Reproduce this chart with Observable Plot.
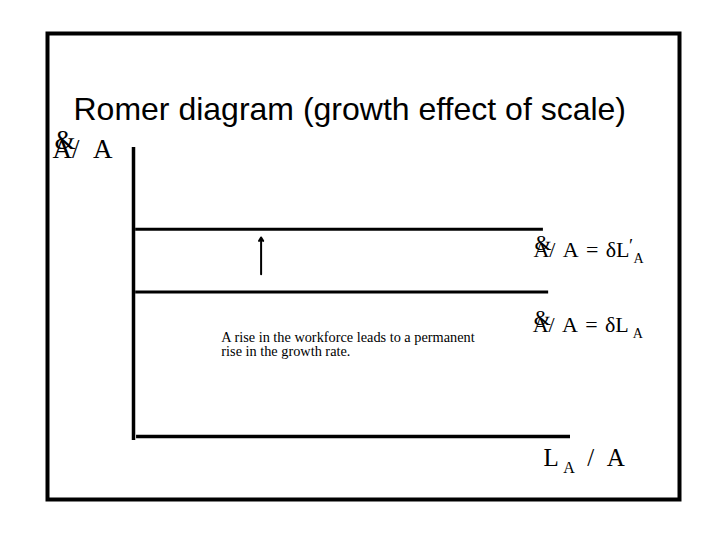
<!DOCTYPE html>
<html>
<head>
<meta charset="utf-8">
<script src="https://cdn.jsdelivr.net/npm/d3@7"></script>
<script src="https://cdn.jsdelivr.net/npm/@observablehq/plot@0.6"></script>
<style>
  html, body { margin: 0; padding: 0; background: #ffffff; }
  svg { display: block; }
</style>
</head>
<body>
<div id="chart"></div>
<script>
// ---- data (diagram in its own units: x = L_A / A, y = growth rate Ȧ/A) ----
const title = "Romer diagram (growth effect of scale)";
const regimes = ["after rise in workforce", "initial workforce"];
const growthRates = [7.17, 5.0];              // δL'_A and δL_A
const lineStarts = [0.05, 0.05];
const lineEnds = [9.38, 9.5];
const eqLabels = ["A/\u2004A\u2004=\u2004δL_{A}^{′}", "A/\u2004A\u2004=\u2004δL_{A}"];
const yAxisLabel = "A/\u2002A";
const xAxisLabel = "L_{A}\u2002/\u2002A";
const xAxisSpan = [0.07, 10];
const yAxisSpan = [-0.14, 10];
const arrowFrom = [2.92, 5.61];
const arrowTo = [2.92, 6.89];
const noteText = "A rise in the workforce leads to a permanent\nrise in the growth rate.";
const noteAt = [2.01, 2.8];

const SERIF = "'Liberation Serif', 'Times New Roman', serif";
const SANS = "'Liberation Sans', Arial, sans-serif";

const lines = regimes.map((r, i) => ({regime: r, g: growthRates[i], x1: lineStarts[i], x2: lineEnds[i], label: eqLabels[i]}));

const plot = Plot.plot({
  width: 720,
  height: 540,
  marginLeft: 47, marginRight: 41, marginTop: 33, marginBottom: 41,
  x: {domain: [0, 10], range: [133, 570], axis: null},
  y: {domain: [0, 10], range: [436, 147], axis: null},
  style: {background: "#ffffff", overflow: "visible"},
  marks: [
    Plot.frame({stroke: "#000", strokeWidth: 4}),
    // title
    Plot.text([title], {text: d => d, frameAnchor: "top-left", dx: 26, dy: 86,
      textAnchor: "start", lineAnchor: "bottom", fontSize: 32, fontFamily: SANS, fill: "#000"}),
    // axes
    Plot.ruleX([0], {x: d => d, y1: yAxisSpan[0], y2: yAxisSpan[1], stroke: "#000", strokeWidth: 3.5}),
    Plot.ruleY([0], {y: d => d, x1: xAxisSpan[0], x2: xAxisSpan[1], stroke: "#000", strokeWidth: 3.5}),
    // growth-rate lines
    Plot.ruleY(lines, {y: "g", x1: "x1", x2: "x2", stroke: "#000", strokeWidth: 3}),
    // arrow
    Plot.arrow([{x1: arrowFrom[0], y1: arrowFrom[1], x2: arrowTo[0], y2: arrowTo[1]}],
      {x1: "x1", y1: "y1", x2: "x2", y2: "y2", stroke: "#000", strokeWidth: 2, headLength: 3}),
    // equation labels
    Plot.text([lines[0]], {x: "x2", y: "g", text: "label", dx: -10, dy: 28, textAnchor: "start",
      lineAnchor: "bottom", fontSize: 22, fontFamily: SERIF, fill: "#000", className: "rich22"}),
    Plot.text([lines[0]], {x: "x2", y: "g", text: () => "&", dx: -9, dy: 21, textAnchor: "start",
      lineAnchor: "bottom", fontSize: 22, fontFamily: SERIF, fill: "#000"}),
    Plot.text([lines[1]], {x: "x2", y: "g", text: "label", dx: -16, dy: 40, textAnchor: "start",
      lineAnchor: "bottom", fontSize: 22, fontFamily: SERIF, fill: "#000", className: "rich22"}),
    Plot.text([lines[1]], {x: "x2", y: "g", text: () => "&", dx: -15, dy: 33, textAnchor: "start",
      lineAnchor: "bottom", fontSize: 22, fontFamily: SERIF, fill: "#000"}),
    // y axis label
    Plot.text([yAxisLabel], {x: () => 0, y: () => yAxisSpan[1], text: d => d, dx: -81, dy: 10,
      textAnchor: "start", lineAnchor: "bottom", fontSize: 27, fontFamily: SERIF, fill: "#000"}),
    Plot.text(["&"], {x: () => 0, y: () => yAxisSpan[1], text: d => d, dx: -79, dy: 1,
      textAnchor: "start", lineAnchor: "bottom", fontSize: 27, fontFamily: SERIF, fill: "#000"}),
    // x axis label
    Plot.text([xAxisLabel], {x: () => xAxisSpan[1], y: () => 0, text: d => d, dx: -27, dy: 29,
      textAnchor: "start", lineAnchor: "bottom", fontSize: 25, fontFamily: SERIF, fill: "#000", className: "rich25"}),
    // note
    Plot.text([noteText], {x: () => noteAt[0], y: () => noteAt[1], text: d => d,
      textAnchor: "start", lineAnchor: "bottom", lineHeight: 0.95, fontSize: 14.3, fontFamily: SERIF, fill: "#000"})
  ]
});

document.getElementById("chart").appendChild(plot);

// turn _{..} / ^{..} markup into sub/superscript tspans
function richify(textEl, F) {
  const s = textEl.textContent;
  while (textEl.firstChild) textEl.removeChild(textEl.firstChild);
  const ns = "http://www.w3.org/2000/svg";
  const re = /([_^])\{([^}]*)\}|([^_^]+)/g;
  let base = 0, lastSub = null;
  for (const m of s.matchAll(re)) {
    const t = document.createElementNS(ns, "tspan");
    if (m[3] !== undefined) {
      t.textContent = m[3];
      t.setAttribute("dy", -base);
      base = 0; lastSub = null;
      textEl.appendChild(t);
    } else if (m[1] === "_") {
      t.textContent = m[2];
      t.setAttribute("font-size", 0.64 * F);
      const target = 0.28 * F;
      t.setAttribute("dy", target - base);
      t.setAttribute("dx", 0.18 * F);
      base = target;
      textEl.appendChild(t);
      lastSub = t;
    } else {
      t.textContent = m[2];
      t.setAttribute("font-size", 0.85 * F);
      const target = -0.22 * F;
      t.setAttribute("dy", target - base);
      if (lastSub) t.setAttribute("dx", -lastSub.getComputedTextLength() - 0.2 * F);
      base = target;
      textEl.appendChild(t);
    }
  }
}
d3.select(plot).selectAll("g.rich22 text").each(function() { richify(this, 22); });
d3.select(plot).selectAll("g.rich25 text").each(function() { richify(this, 25); });
</script>
</body>
</html>
